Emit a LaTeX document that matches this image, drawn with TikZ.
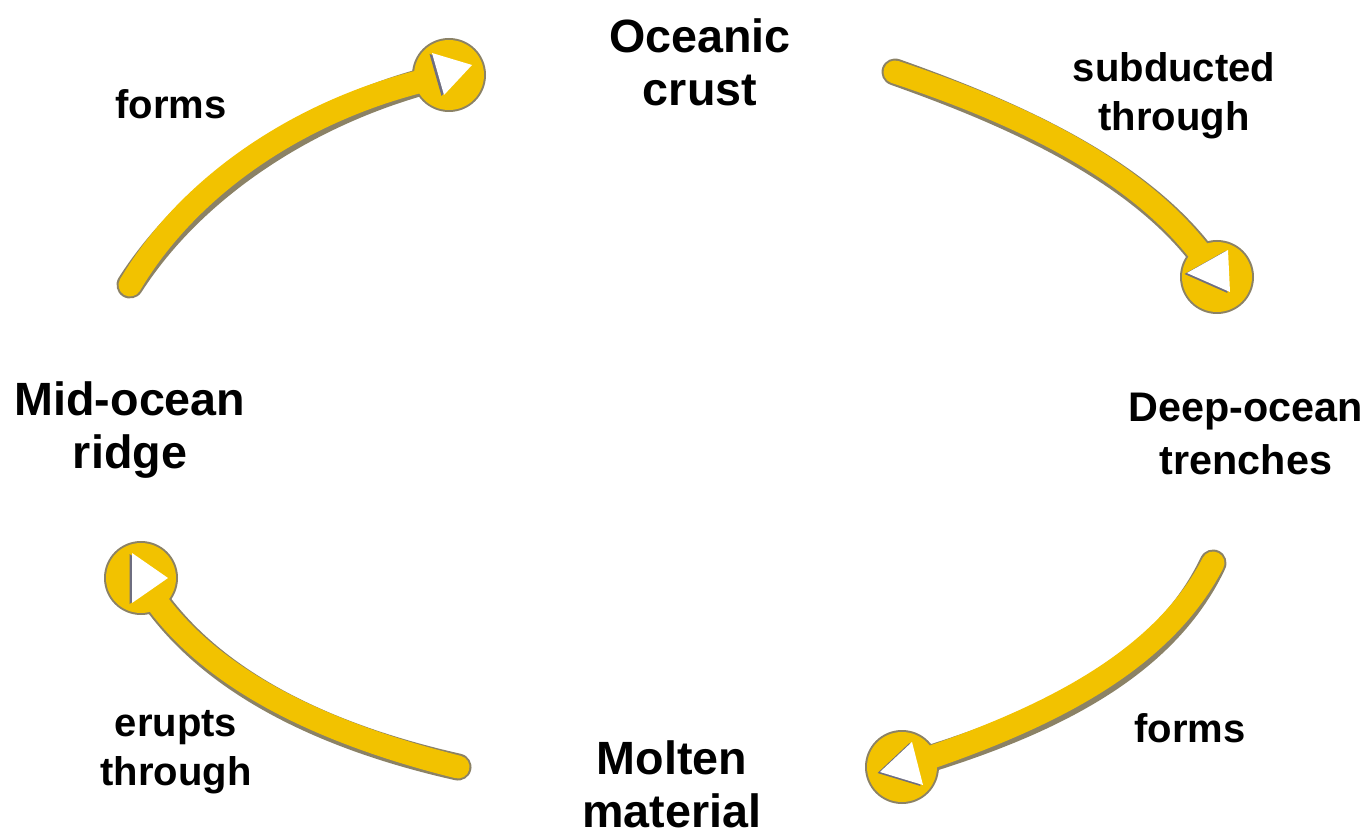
\documentclass[tikz,border=0pt]{standalone}
\usepackage{fontspec}
\setmainfont{Liberation Sans}
\definecolor{gold}{HTML}{F2C200}
\definecolor{shade}{HTML}{3E2E00}
\definecolor{tri}{HTML}{6E6E80}
\begin{document}
\begin{tikzpicture}[x=0.75pt,y=-0.75pt,
  mainlbl/.style={font=\fontsize{35}{40}\selectfont\bfseries,align=center,inner sep=0pt},
  sublbl/.style={font=\fontsize{30}{37}\selectfont\bfseries,align=center,inner sep=0pt},
  shadowline/.style={line width=27*0.75pt,line cap=round,draw=shade},
  bar/.style={line width=23*0.75pt,line cap=round,draw=gold},
  knobshadow/.style={circle,fill=shade,minimum size=74*0.75pt,inner sep=0pt},
  knob/.style={circle,fill=gold,minimum size=70*0.75pt,inner sep=0pt},
]
\useasboundingbox (0,0) rectangle (1372,838);

% labels
\node[mainlbl] (crust) at (700,62) {Oceanic\\crust};
\node[mainlbl,font=\fontsize{31}{40}\selectfont\bfseries] (trench) at (1246,434) {Deep-ocean\\trenches};
\node[mainlbl] (molten) at (672,784) {Molten\\material};
\node[mainlbl] (ridge) at (130,430) {Mid-ocean\\ridge};

\node[sublbl] (l1) at (171,104) {forms};
\node[sublbl] (l2) at (1174,96) {subducted\\through};
\node[sublbl] (l3) at (1190,728) {forms};
\node[sublbl] (l4) at (176,752) {erupts\\through};

% knob centres and arc starts
\coordinate (s1) at (130,285); \coordinate (k1) at (449,75);
\coordinate (s2) at (895,72);  \coordinate (k2) at (1217,277);
\coordinate (s3) at (1213,563); \coordinate (k3) at (902,767);
\coordinate (s4) at (458,767); \coordinate (k4) at (141,578);

% shadows
\begin{scope}[shift={(3,4)},opacity=0.6,transparency group]
\draw[shadowline] (s1) .. controls (195,175) and (320,100) .. (k1);
\draw[shadowline] (s2) .. controls (1010,110) and (1150,170) .. (k2);
\draw[shadowline] (s3) .. controls (1160,665) and (1040,722) .. (k3);
\draw[shadowline] (s4) .. controls (330,735) and (200,680) .. (k4);
\foreach \k in {k1,k2,k3,k4} \node[knobshadow] at (\k) {};
\end{scope}

% bars
\draw[bar] (s1) .. controls (195,175) and (320,100) .. (k1);
\draw[bar] (s2) .. controls (1010,110) and (1150,170) .. (k2);
\draw[bar] (s3) .. controls (1160,665) and (1040,722) .. (k3);
\draw[bar] (s4) .. controls (330,735) and (200,680) .. (k4);

% knobs
\foreach \k in {k1,k2,k3,k4} \node[knob] (n\k) at (\k) {};

% triangles (vertices relative to knob centres, picture pixels)
\foreach \k/\ax/\ay/\bx/\by/\cx/\cy in {
  k1/-17/-22/23/-10/-5/20,
  k2/11/-27/-30/-4/13/15,
  k3/10/-25/-22/5/21/18,
  k4/-9/-25/27/0/-9/25}{
  \fill[tri] ([shift={(\ax-2.5,\ay+1)}]\k) -- ([shift={(\bx-2.5,\by+1)}]\k) -- ([shift={(\cx-2.5,\cy+1)}]\k) -- cycle;
  \fill[white] ([shift={(\ax,\ay)}]\k) -- ([shift={(\bx,\by)}]\k) -- ([shift={(\cx,\cy)}]\k) -- cycle;
}
\end{tikzpicture}
\end{document}
